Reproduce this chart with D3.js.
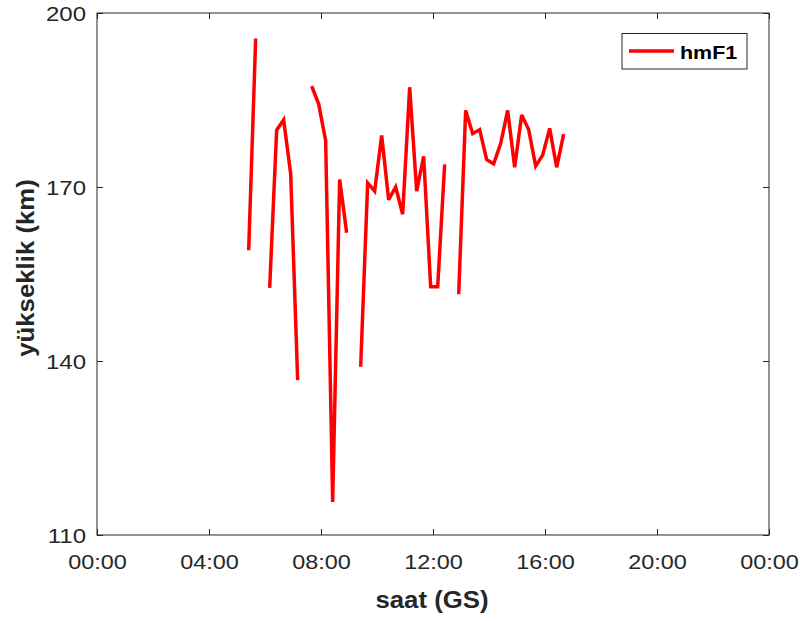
<!DOCTYPE html>
<html>
<head>
<meta charset="utf-8">
<script src="https://cdn.jsdelivr.net/npm/d3@7/dist/d3.min.js"></script>
<style>
  html, body { margin: 0; padding: 0; background: #fff; }
  svg { display: block; font-family: "Liberation Sans", Arial, sans-serif; }
</style>
</head>
<body>
<svg id="chart" width="800" height="621"></svg>
<script>
// ---- data ----
const times = ["05:25","05:40","05:55","06:10","06:25","06:40","06:55","07:10","07:25",
  "07:40","07:55","08:10","08:25","08:40","08:55","09:10",
  "09:25","09:40","09:55","10:10","10:25","10:40","10:55","11:10","11:25","11:40","11:55","12:10","12:25","12:40",
  "12:55","13:10","13:25","13:40","13:55","14:10","14:25","14:40","14:55","15:10","15:25","15:40","15:55","16:10","16:25","16:40"];
const hmF1 = [159.1,195.6,null,152.6,179.8,181.6,172.3,136.7,null,
  187.4,184.3,178.0,115.7,171.3,162.1,null,
  139.0,170.7,169.3,178.9,167.8,170.0,165.3,187.2,169.3,175.3,152.8,152.8,173.9,null,
  151.5,183.2,179.2,179.9,174.7,174.0,177.5,183.2,173.4,182.4,179.9,173.6,175.5,180.1,173.4,179.1];
const xTicks = [0,4,8,12,16,20,24];
const xTickLabels = ["00:00","04:00","08:00","12:00","16:00","20:00","00:00"];
const yTicks = [110,140,170,200];
const seriesName = "hmF1";
const xTitle = "saat (GS)";
const yTitle = "yükseklik (km)";

// ---- layout ----
const L = 97, R = 769, T = 13, B = 535;
const svg = d3.select("#chart");
const toHours = s => { const [h,m] = s.split(":").map(Number); return h + m/60; };
const data = times.map((t,i) => ({x: toHours(t), y: hmF1[i]}));

const x = d3.scaleLinear().domain([0,24]).range([L,R]);
const y = d3.scaleLinear().domain([110,200]).range([B,T]);
const axisColor = "#262626";

function stretch(sel, f) {
  sel.each(function() {
    const w = this.getComputedTextLength();
    this.setAttribute("textLength", w * f);
    this.setAttribute("lengthAdjust", "spacingAndGlyphs");
  });
}

// x axis (bottom)
const gx = svg.append("g").attr("transform", `translate(0,${B})`)
  .call(d3.axisBottom(x).tickValues(xTicks).tickFormat((d,i) => xTickLabels[i])
    .tickSizeInner(-6).tickSizeOuter(0).tickPadding(0));
gx.select(".domain").remove();
gx.selectAll(".tick line").attr("stroke", axisColor);
gx.selectAll(".tick text").attr("font-size", 20).attr("fill", axisColor)
  .attr("y", 34).attr("dy", 0).attr("font-family", "Liberation Sans, Arial, sans-serif")
  .call(stretch, 1.17);

// x axis top ticks
const gxt = svg.append("g").attr("transform", `translate(0,${T})`)
  .call(d3.axisTop(x).tickValues(xTicks).tickFormat("").tickSizeInner(-6).tickSizeOuter(0));
gxt.select(".domain").remove();
gxt.selectAll(".tick line").attr("stroke", axisColor);

// y axis (left)
const gy = svg.append("g").attr("transform", `translate(${L},0)`)
  .call(d3.axisLeft(y).tickValues(yTicks).tickSizeInner(-6).tickSizeOuter(0).tickPadding(0));
gy.select(".domain").remove();
gy.selectAll(".tick line").attr("stroke", axisColor);
gy.selectAll(".tick text").attr("font-size", 20).attr("fill", axisColor)
  .attr("x", -11).attr("dy", "0.35em").attr("font-family", "Liberation Sans, Arial, sans-serif")
  .call(stretch, 1.2);

// y axis right ticks
const gyr = svg.append("g").attr("transform", `translate(${R},0)`)
  .call(d3.axisRight(y).tickValues(yTicks).tickFormat("").tickSizeInner(-6).tickSizeOuter(0));
gyr.select(".domain").remove();
gyr.selectAll(".tick line").attr("stroke", axisColor);

// box
svg.append("rect").attr("x", L).attr("y", T).attr("width", R-L).attr("height", B-T)
  .attr("fill", "none").attr("stroke", axisColor).attr("stroke-width", 1);

// line
const line = d3.line().defined(d => d.y !== null).x(d => x(d.x)).y(d => y(d.y));
svg.append("path").datum(data).attr("d", line)
  .attr("fill", "none").attr("stroke", "#ff0000").attr("stroke-width", 3.5)
  .attr("stroke-linejoin", "miter").attr("stroke-miterlimit", 3);

// axis titles
svg.append("text").attr("x", (L+R)/2 - 1).attr("y", 608).attr("text-anchor", "middle")
  .attr("font-size", 23).attr("font-weight", "bold").attr("fill", axisColor)
  .text(xTitle).call(stretch, 1.12);
svg.append("text").attr("transform", `translate(34,268) rotate(-90)`).attr("text-anchor", "middle")
  .attr("font-size", 23).attr("font-weight", "bold").attr("fill", axisColor)
  .text(yTitle).call(stretch, 1.12);

// legend
const lg = svg.append("g");
lg.append("rect").attr("x", 622).attr("y", 33.5).attr("width", 125).attr("height", 35.5)
  .attr("fill", "#fff").attr("stroke", axisColor).attr("stroke-width", 1);
lg.append("line").attr("x1", 629).attr("x2", 674).attr("y1", 51).attr("y2", 51)
  .attr("stroke", "#ff0000").attr("stroke-width", 3.5);
lg.append("text").attr("x", 680).attr("y", 59).attr("font-size", 19).attr("font-weight", "bold")
  .attr("fill", "#000").text(seriesName).call(stretch, 1.13);
</script>
</body>
</html>
